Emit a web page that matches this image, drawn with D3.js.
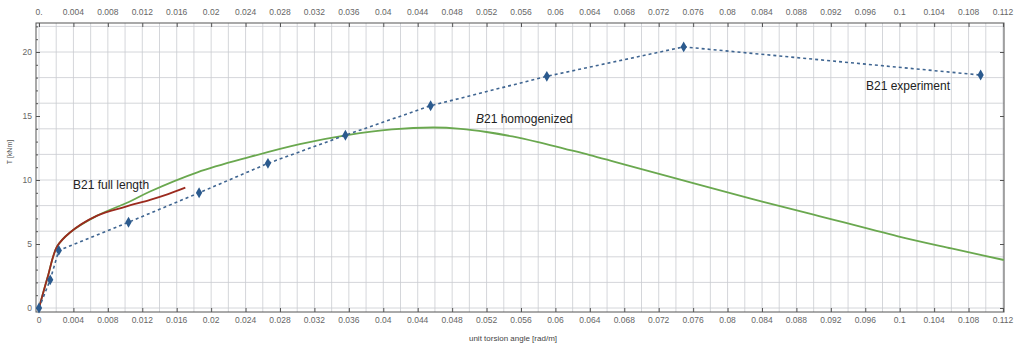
<!DOCTYPE html>
<html>
<head>
<meta charset="utf-8">
<script src="https://cdn.jsdelivr.net/npm/d3@7"></script>
<style>
  body { margin: 0; background: #fff; }
  svg { display: block; font-family: "Liberation Sans", Arial, sans-serif; }
</style>
</head>
<body>
<div id="chart"></div>
<script>
// experiment (blue diamonds, dashed)
const expAngle = [0, 0.0013, 0.0023, 0.0104, 0.0186, 0.0266, 0.0356, 0.0455, 0.0590, 0.0749, 0.1094];
const expTorque = [0, 2.2, 4.5, 6.7, 9.0, 11.3, 13.5, 15.8, 18.1, 20.4, 18.2];

// homogenized model (green)
const homAngle = [0, 0.001, 0.0021, 0.0036, 0.0067, 0.0105, 0.0129, 0.0184, 0.0245, 0.0303, 0.0358, 0.041, 0.0458, 0.049, 0.052, 0.055, 0.058, 0.061, 0.064, 0.067, 0.070, 0.076, 0.0827, 0.090, 0.0998, 0.106, 0.1121];
const homTorque = [0, 2.4, 4.8, 5.9, 7.2, 8.3, 9.1, 10.6, 11.8, 12.8, 13.5, 13.95, 14.1, 14.0, 13.75, 13.4, 12.95, 12.45, 11.95, 11.4, 10.85, 9.75, 8.55, 7.3, 5.6, 4.65, 3.75];

// full length model (red)
const fullAngle = [0, 0.001, 0.0021, 0.0036, 0.0067, 0.0100, 0.0129, 0.015, 0.017];
const fullTorque = [0, 2.4, 4.8, 5.9, 7.2, 7.9, 8.45, 8.9, 9.4];

const xTickVals = d3.range(0, 0.1121, 0.004);
const yTickVals = [0, 5, 10, 15, 20];

const width = 1014, height = 349;
const frame = { left: 36, right: 1004, top: 23, bottom: 312 };

const x = d3.scaleLinear().domain([0, 0.112]).range([39, 1003]);
const y = d3.scaleLinear().domain([0, 20]).range([308, 52]);

const svg = d3.select('#chart').append('svg')
  .attr('width', width).attr('height', height);

// grid
const grid = svg.append('g').attr('stroke', '#c9ccd0').attr('stroke-width', 0.8);
grid.selectAll('.vg').data(d3.range(0, 0.1121, 0.002)).join('line')
  .attr('x1', d => x(d)).attr('x2', d => x(d))
  .attr('y1', frame.top).attr('y2', frame.bottom);
grid.selectAll('.hg').data(d3.range(0, 22.1, 2)).join('line')
  .attr('x1', frame.left).attr('x2', frame.right)
  .attr('y1', d => y(d)).attr('y2', d => y(d));

// frame
svg.append('rect')
  .attr('x', frame.left).attr('y', frame.top)
  .attr('width', frame.right - frame.left).attr('height', frame.bottom - frame.top)
  .attr('fill', 'none').attr('stroke', '#555').attr('stroke-width', 1);

// bottom axis
svg.append('g').attr('transform', `translate(0,${frame.bottom})`)
  .call(d3.axisTop(x).tickValues(xTickVals).tickSize(4).tickFormat(() => ''))
  .call(g => g.select('.domain').remove())
  .call(g => g.selectAll('line').attr('stroke', '#555'));
svg.append('g').selectAll('text').data(xTickVals).join('text')
  .attr('x', d => x(d)).attr('y', 323)
  .attr('text-anchor', 'middle').attr('font-size', 8.5).attr('fill', '#666')
  .text((d, i) => i === 0 ? '0' : +d.toFixed(3));

// top axis
svg.append('g').attr('transform', `translate(0,${frame.top})`)
  .call(d3.axisBottom(x).tickValues(xTickVals).tickSize(4).tickFormat(() => ''))
  .call(g => g.select('.domain').remove())
  .call(g => g.selectAll('line').attr('stroke', '#555'));
svg.append('g').selectAll('text').data(xTickVals).join('text')
  .attr('x', d => x(d)).attr('y', 15)
  .attr('text-anchor', 'middle').attr('font-size', 8.5).attr('fill', '#666')
  .text((d, i) => i === 0 ? '0.' : +d.toFixed(3));

// left axis
svg.append('g').attr('transform', `translate(${frame.left},0)`)
  .call(d3.axisRight(y).tickValues(yTickVals).tickSize(4).tickFormat(() => ''))
  .call(g => g.select('.domain').remove())
  .call(g => g.selectAll('line').attr('stroke', '#555'));
svg.append('g').attr('transform', `translate(${frame.left},0)`)
  .call(d3.axisRight(y).tickValues(d3.range(0, 22.1, 1)).tickSize(2).tickFormat(() => ''))
  .call(g => g.select('.domain').remove())
  .call(g => g.selectAll('line').attr('stroke', '#555'));
svg.append('g').selectAll('text').data(yTickVals).join('text')
  .attr('x', 32).attr('y', d => y(d) + 3)
  .attr('text-anchor', 'end').attr('font-size', 8.5).attr('fill', '#666')
  .text(d => d);

// right axis
svg.append('g').attr('transform', `translate(${frame.right},0)`)
  .call(d3.axisLeft(y).tickValues(yTickVals).tickSize(4).tickFormat(() => ''))
  .call(g => g.select('.domain').remove())
  .call(g => g.selectAll('line').attr('stroke', '#555'));

// axis titles
svg.append('text')
  .attr('transform', 'translate(12,152) rotate(-90)')
  .attr('text-anchor', 'middle').attr('font-size', 7).attr('fill', '#555')
  .text('T [kNm]');
svg.append('text')
  .attr('x', 513).attr('y', 341)
  .attr('text-anchor', 'middle').attr('font-size', 8).attr('fill', '#444')
  .text('unit torsion angle [rad/m]');

const line = d3.line().x(d => x(d[0])).y(d => y(d[1])).curve(d3.curveCatmullRom.alpha(0.5));

// homogenized
svg.append('path')
  .datum(d3.zip(homAngle, homTorque))
  .attr('fill', 'none').attr('stroke', '#6aa84f').attr('stroke-width', 1.8)
  .attr('d', line);

// full length
svg.append('path')
  .datum(d3.zip(fullAngle, fullTorque))
  .attr('fill', 'none').attr('stroke', '#9b2a1e').attr('stroke-width', 1.8)
  .attr('d', line);

// experiment
const expData = d3.zip(expAngle, expTorque);
svg.append('path')
  .datum(expData)
  .attr('fill', 'none').attr('stroke', '#3f6591').attr('stroke-width', 1.6)
  .attr('stroke-dasharray', '3,3')
  .attr('d', d3.line().x(d => x(d[0])).y(d => y(d[1])));
svg.append('g').selectAll('path').data(expData).join('path')
  .attr('transform', d => `translate(${x(d[0])},${y(d[1])})`)
  .attr('d', d3.symbol(d3.symbolDiamond, 34))
  .attr('fill', '#2b5a8e');

// labels
svg.append('text').attr('x', 73).attr('y', 189)
  .attr('font-size', 12).attr('fill', '#222').text('B21 full length');
svg.append('text').attr('x', 476).attr('y', 123)
  .attr('font-size', 12).attr('fill', '#222')
  .call(t => { t.append('tspan').attr('font-style', 'italic').text('B'); t.append('tspan').text('21 homogenized'); });
svg.append('text').attr('x', 866).attr('y', 90)
  .attr('font-size', 12).attr('fill', '#222').text('B21 experiment');
</script>
</body>
</html>
